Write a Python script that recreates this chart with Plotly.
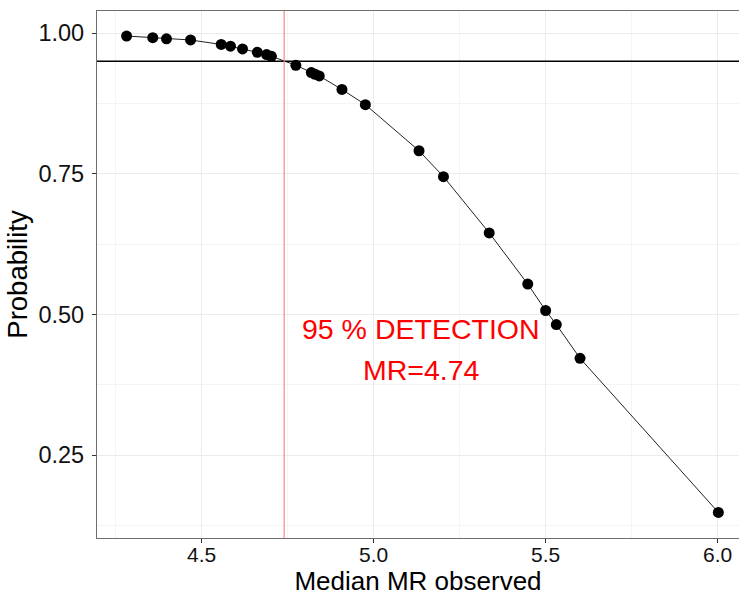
import plotly.graph_objects as go

# Data
median_mr = [4.282, 4.358, 4.398, 4.468, 4.557, 4.584, 4.619, 4.662, 4.689, 4.703,
             4.774, 4.819, 4.830, 4.842, 4.908, 4.976, 5.132, 5.203, 5.336, 5.448,
             5.500, 5.531, 5.600, 6.002]
probability = [0.995, 0.992, 0.990, 0.988, 0.980, 0.977, 0.972, 0.966, 0.962, 0.959,
               0.943, 0.930, 0.927, 0.924, 0.900, 0.873, 0.791, 0.745, 0.645, 0.554,
               0.507, 0.482, 0.422, 0.148]
threshold_prob = 0.95
detection_mr = 4.74
x_ticks = [4.5, 5.0, 5.5, 6.0]
y_ticks = [0.25, 0.50, 0.75, 1.00]
label_line1 = "95 % DETECTION"
label_line2 = "MR=4.74"

FONT = "Liberation Sans, Arial, sans-serif"

fig = go.Figure()
fig.add_trace(go.Scatter(
    x=median_mr, y=probability, mode="lines+markers",
    line=dict(color="#222222", width=1),
    marker=dict(color="black", size=11),
    showlegend=False, hoverinfo="x+y",
))

fig.add_hline(y=threshold_prob, line=dict(color="black", width=1.5), layer="above")
fig.add_vline(x=detection_mr, line=dict(color="#F48A8A", width=1.2), layer="above")

fig.add_annotation(x=5.138, y=0.474, text=label_line1, showarrow=False,
                   font=dict(family=FONT, size=28.5, color="#FF0000"),
                   xanchor="center", yanchor="middle")
fig.add_annotation(x=5.138, y=0.401, text=label_line2, showarrow=False,
                   font=dict(family=FONT, size=28.5, color="#FF0000"),
                   xanchor="center", yanchor="middle")

fig.update_layout(
    width=739, height=596,
    margin=dict(l=97, r=0, t=11, b=58),
    paper_bgcolor="white", plot_bgcolor="white",
    font=dict(family=FONT, color="#111111"),
    showlegend=False,
)
fig.update_xaxes(
    range=[4.196, 6.062], tickvals=x_ticks, tickformat=".1f",
    tickfont=dict(size=21, color="#111111"),
    ticklabelstandoff=-6,
    title=dict(text="Median MR observed", font=dict(size=26, color="#000000"), standoff=2),
    showgrid=True, gridcolor="#EBEBEB", gridwidth=1.3,
    minor=dict(tickvals=[4.25, 4.75, 5.25, 5.75], showgrid=True, gridcolor="#F4F4F4", gridwidth=0.8, ticks=""),
    showline=True, linecolor="#6E6E6E", linewidth=1.3, mirror=True,
    ticks="outside", ticklen=4, tickcolor="#333333", tickwidth=1,
    zeroline=False,
)
fig.update_yaxes(
    range=[0.1025, 1.0395], tickvals=y_ticks, tickformat=".2f",
    tickfont=dict(size=23.5, color="#111111"),
    ticklabelstandoff=3,
    title=dict(text="Probability", font=dict(size=27.5, color="#000000"), standoff=2),
    showgrid=True, gridcolor="#EBEBEB", gridwidth=1.3,
    minor=dict(tickvals=[0.125, 0.375, 0.625, 0.875], showgrid=True, gridcolor="#F4F4F4", gridwidth=0.8, ticks=""),
    showline=True, linecolor="#6E6E6E", linewidth=1.3, mirror=False,
    ticks="outside", ticklen=4, tickcolor="#333333", tickwidth=1,
    zeroline=False,
)

fig.write_html("out.html")
